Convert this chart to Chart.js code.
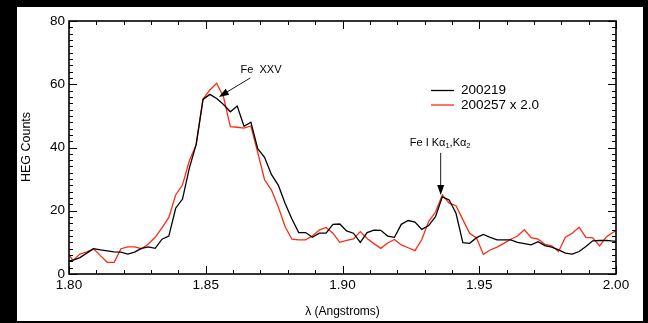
<!DOCTYPE html>
<html>
<head>
<meta charset="utf-8">
<script src="https://cdn.jsdelivr.net/npm/chart.js@4/dist/chart.umd.min.js"></script>
<style>
html,body{margin:0;padding:0;background:#000;}
canvas{display:block;}
</style>
</head>
<body>
<canvas id="grafico" width="648" height="323"></canvas>
<script>
// HEG bins (Angstroms)
const lambda = [
  1.7990, 1.8015, 1.8040, 1.8065, 1.8090, 1.8115, 1.8140, 1.8165, 1.8190, 1.8215,
  1.8240, 1.8265, 1.8290, 1.8315, 1.8340, 1.8365, 1.8390, 1.8415, 1.8440, 1.8465,
  1.8490, 1.8515, 1.8540, 1.8565, 1.8590, 1.8615, 1.8640, 1.8665, 1.8690, 1.8715,
  1.8740, 1.8765, 1.8790, 1.8815, 1.8840, 1.8865, 1.8890, 1.8915, 1.8940, 1.8965,
  1.8990, 1.9015, 1.9040, 1.9065, 1.9090, 1.9115, 1.9140, 1.9165, 1.9190, 1.9215,
  1.9240, 1.9265, 1.9290, 1.9315, 1.9340, 1.9365, 1.9390, 1.9415, 1.9440, 1.9465,
  1.9490, 1.9515, 1.9540, 1.9565, 1.9590, 1.9615, 1.9640, 1.9665, 1.9690, 1.9715,
  1.9740, 1.9765, 1.9790, 1.9815, 1.9840, 1.9865, 1.9890, 1.9915, 1.9940, 1.9965,
  1.9990, 2.0015
];

// obs 200219
const cont200219 = [
  4.0, 4.4, 5.2, 6.6, 8.0, 7.6, 7.3, 7.0, 6.9, 6.3,
  6.9, 8.1, 8.6, 8.1, 11.0, 12.0, 20.8, 23.7, 33.5, 41.0,
  55.2, 56.8, 55.5, 53.6, 51.3, 53.1, 46.7, 48.0, 39.6, 36.9,
  31.5, 28.1, 22.4, 17.4, 13.1, 13.1, 11.6, 12.9, 12.9, 15.7,
  15.8, 13.6, 12.9, 10.0, 13.1, 13.9, 13.8, 12.0, 11.6, 15.7,
  16.9, 16.4, 14.1, 15.3, 18.1, 24.4, 23.4, 19.2, 9.9, 9.7,
  11.5, 12.5, 11.6, 10.8, 10.8, 10.8, 10.0, 9.6, 9.2, 10.2,
  9.0, 8.5, 7.6, 6.6, 6.3, 7.1, 8.7, 10.5, 10.6, 10.6,
  10.4, 10.3
];

// obs 200257, escalado x 2.0
const cont200257 = [
  7.0, 4.3, 6.3, 7.0, 8.0, 5.8, 3.7, 3.7, 8.0, 8.6,
  8.6, 8.0, 9.5, 11.6, 14.6, 17.9, 25.0, 28.2, 35.8, 40.9,
  55.3, 58.2, 60.3, 56.0, 46.6, 46.4, 46.1, 46.8, 38.5, 29.8,
  26.6, 21.3, 15.0, 11.0, 10.8, 10.8, 12.0, 13.9, 14.7, 12.9,
  10.0, 10.6, 11.1, 13.4, 11.2, 9.6, 8.1, 9.8, 10.9, 9.2,
  8.3, 7.4, 10.9, 16.6, 19.6, 25.0, 22.4, 21.6, 17.2, 12.9,
  11.4, 6.2, 7.6, 8.5, 9.7, 11.0, 12.0, 14.0, 11.5, 11.0,
  9.4, 8.9, 7.1, 11.6, 12.9, 14.8, 11.6, 11.4, 8.9, 11.8,
  13.2, 14.4
];

const rotulos = ["200219", "200257 x 2.0"];
const cores = ["#000000", "#ff2a12"];

const FONTE = '"Liberation Sans", Arial, Helvetica, sans-serif';

function pontos(valores){
  return lambda.map((l, i) => ({x: l, y: valores[i]}));
}

// ------------------- desenho extra -------------------
const fundo = {
  id: 'fundo',
  beforeDraw(chart){
    const ctx = chart.ctx;
    ctx.save();
    ctx.fillStyle = '#000';
    ctx.fillRect(0, 0, chart.width, chart.height);
    ctx.fillStyle = '#fff';
    ctx.fillRect(17, 7, 626, 314);
    ctx.restore();
  }
};

function seta(ctx, x0, y0, x1, y1){
  const ang = Math.atan2(y1 - y0, x1 - x0);
  const tam = 10, larg = 3.5;
  ctx.beginPath();
  ctx.moveTo(x0, y0);
  ctx.lineTo(x1 - Math.cos(ang) * tam * 0.8, y1 - Math.sin(ang) * tam * 0.8);
  ctx.stroke();
  ctx.beginPath();
  ctx.moveTo(x1, y1);
  ctx.lineTo(x1 - Math.cos(ang) * tam - Math.sin(ang) * larg, y1 - Math.sin(ang) * tam + Math.cos(ang) * larg);
  ctx.lineTo(x1 - Math.cos(ang) * tam + Math.sin(ang) * larg, y1 - Math.sin(ang) * tam - Math.cos(ang) * larg);
  ctx.closePath();
  ctx.fill();
}

const moldura = {
  id: 'moldura',
  afterDraw(chart){
    const ctx = chart.ctx;
    const a = chart.chartArea;
    const sx = chart.scales.x, sy = chart.scales.y;
    ctx.save();

    // ticks para dentro, estilo IDL
    ctx.strokeStyle = '#000';
    ctx.lineWidth = 1;
    ctx.beginPath();
    for(let k = 0; k <= 20; k++){
      const v = 1.80 + k * 0.01;
      const px = Math.round(sx.getPixelForValue(v)) + 0.5;
      const len = (k % 5 === 0) ? 8 : 4;
      ctx.moveTo(px, a.bottom); ctx.lineTo(px, a.bottom - len);
      ctx.moveTo(px, a.top); ctx.lineTo(px, a.top + len);
    }
    for(let k = 0; k <= 40; k++){
      const v = k * 2;
      const py = Math.round(sy.getPixelForValue(v)) + 0.5;
      const len = (k % 10 === 0) ? 8 : 4;
      ctx.moveTo(a.left, py); ctx.lineTo(a.left + len, py);
      ctx.moveTo(a.right, py); ctx.lineTo(a.right - len, py);
    }
    ctx.stroke();

    ctx.lineWidth = 1.6;
    ctx.strokeRect(a.left, a.top, a.right - a.left, a.bottom - a.top);

    // titulos dos eixos
    ctx.fillStyle = '#000';
    ctx.font = '12px ' + FONTE;
    ctx.textAlign = 'center';
    ctx.textBaseline = 'middle';
    ctx.fillText('λ (Angstroms)', (a.left + a.right) / 2, 312);
    ctx.save();
    ctx.translate(27, 147);
    ctx.rotate(-Math.PI / 2);
    ctx.font = '12.5px ' + FONTE;
    ctx.fillText('HEG Counts', 0, 0);
    ctx.restore();

    // legenda
    ctx.font = '13.5px ' + FONTE;
    ctx.textAlign = 'left';
    rotulos.forEach((r, i) => {
      const y = 90.5 + i * 14.5;
      ctx.strokeStyle = cores[i];
      ctx.lineWidth = 1.3;
      ctx.beginPath();
      ctx.moveTo(431, y); ctx.lineTo(454, y);
      ctx.stroke();
      ctx.fillStyle = '#000';
      ctx.fillText(r, 461, y);
    });

    // anotacoes
    ctx.strokeStyle = '#000';
    ctx.fillStyle = '#000';
    ctx.lineWidth = 0.9;
    seta(ctx, sx.getPixelForValue(1.8663), sy.getPixelForValue(62.0),
              sx.getPixelForValue(1.8548), sy.getPixelForValue(56.0));
    seta(ctx, sx.getPixelForValue(1.9359), sy.getPixelForValue(38.3),
              sx.getPixelForValue(1.9359), sy.getPixelForValue(25.0));

    ctx.font = '11px ' + FONTE;
    ctx.textAlign = 'center';
    ctx.fillText('Fe  XXV', sx.getPixelForValue(1.8702), sy.getPixelForValue(64.5));

    // Fe I Ka1,Ka2 com subscritos
    const partes = [['Fe I Kα', 11, 0], ['1', 7.5, 3], [',Kα', 11, 0], ['2', 7.5, 3]];
    let total = 0;
    partes.forEach(p => { ctx.font = p[1] + 'px ' + FONTE; total += ctx.measureText(p[0]).width; });
    let x = sx.getPixelForValue(1.9357) - total / 2;
    const yb = sy.getPixelForValue(41.5);
    ctx.textAlign = 'left';
    partes.forEach(p => {
      ctx.font = p[1] + 'px ' + FONTE;
      ctx.fillText(p[0], x, yb + p[2]);
      x += ctx.measureText(p[0]).width;
    });

    ctx.restore();
  }
};

// ------------------- GRAFICO -------------------
new Chart(document.getElementById('grafico'), {
  type: 'line',
  data: {
    datasets: [
      {label: rotulos[0], data: pontos(cont200219), borderColor: cores[0], borderWidth: 1.3, pointRadius: 0, tension: 0},
      {label: rotulos[1], data: pontos(cont200257), borderColor: cores[1], borderWidth: 1.3, pointRadius: 0, tension: 0}
    ]
  },
  options: {
    responsive: false,
    animation: false,
    layout: {padding: {left: 0, top: 21, right: 32, bottom: 0}},
    plugins: {legend: {display: false}, tooltip: {enabled: false}},
    scales: {
      x: {
        type: 'linear', min: 1.80, max: 2.00,
        afterFit: s => { s.height = 49; },
        grid: {display: false, drawTicks: false},
        border: {display: false},
        ticks: {stepSize: 0.05, padding: 3, color: '#000', font: {size: 13.5, family: FONTE},
                maxRotation: 0, callback: v => v.toFixed(2)}
      },
      y: {
        min: 0, max: 80,
        afterFit: s => { s.width = 69; },
        grid: {display: false, drawTicks: false},
        border: {display: false},
        ticks: {stepSize: 20, padding: 4, color: '#000', font: {size: 13.5, family: FONTE}}
      }
    }
  },
  plugins: [fundo, moldura]
});
</script>
</body>
</html>
